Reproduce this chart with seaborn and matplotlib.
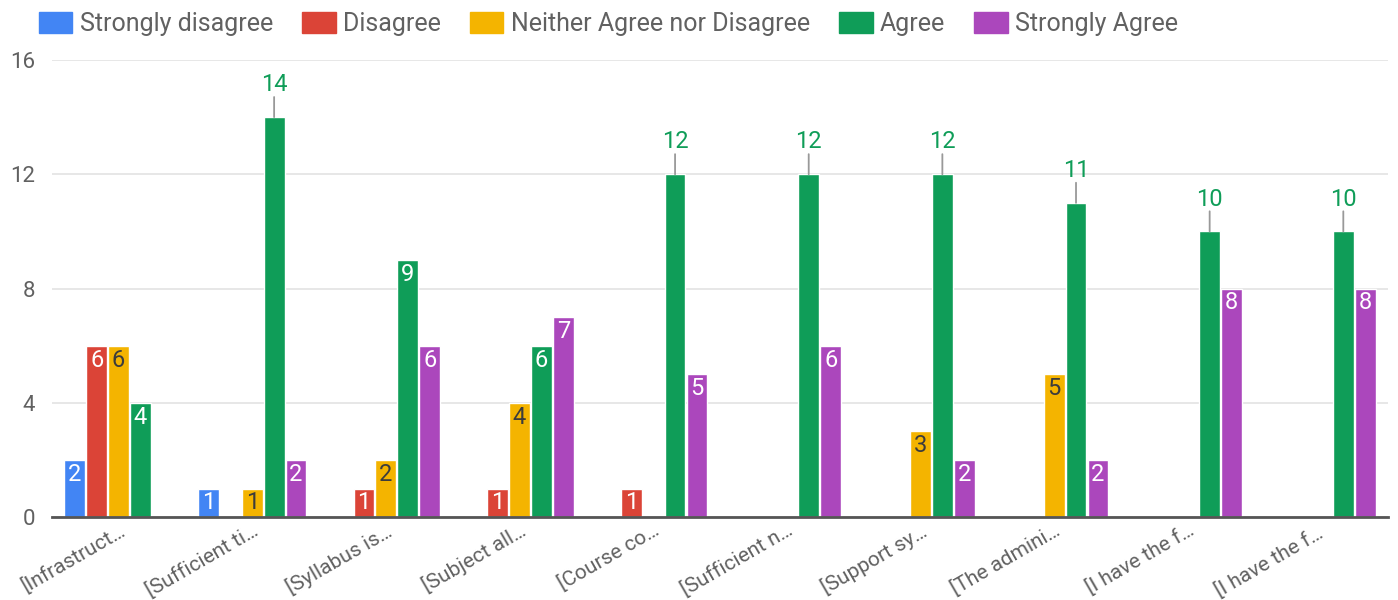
import matplotlib

matplotlib.use("Agg")

import matplotlib.pyplot as plt
import numpy as np
import pandas as pd
import seaborn as sns

# Survey responses per statement (counts)
CATEGORIES = [
    "[Infrastruct…",
    "[Sufficient ti…",
    "[Syllabus is…",
    "[Subject all…",
    "[Course co…",
    "[Sufficient n…",
    "[Support sy…",
    "[The admini…",
    "[I have the f…",
    "[I have the f… ",
]
SERIES = ["Strongly disagree", "Disagree", "Neither Agree nor Disagree", "Agree", "Strongly Agree"]
STRONGLY_DISAGREE = [2, 1, 0, 0, 0, 0, 0, 0, 0, 0]
DISAGREE = [6, 0, 1, 1, 1, 0, 0, 0, 0, 0]
NEITHER = [6, 1, 2, 4, 0, 0, 3, 5, 0, 0]
AGREE = [4, 14, 9, 6, 12, 12, 12, 11, 10, 10]
STRONGLY_AGREE = [0, 2, 6, 7, 5, 6, 2, 2, 8, 8]
Y_TICKS = [0, 4, 8, 12, 16]

COLORS = ["#4285F4", "#DB4437", "#F4B400", "#0F9D58", "#AB47BC"]
LABEL_COLORS = ["white", "white", "#3c3c3c", "white", "white"]

sns.set_theme(style="white")
plt.rcParams["font.family"] = ["Roboto", "DejaVu Sans"]

values = [STRONGLY_DISAGREE, DISAGREE, NEITHER, AGREE, STRONGLY_AGREE]
rows = []
for s, vals in zip(SERIES, values):
    for c, v in zip(CATEGORIES, vals):
        rows.append({"question": c, "response": s, "count": v})
df = pd.DataFrame(rows)

fig = plt.figure(figsize=(13.98, 6), dpi=100)
ax = fig.add_axes([0.037, 0.138, 0.956, 0.762])

sns.barplot(
    data=df,
    x="question",
    y="count",
    hue="response",
    hue_order=SERIES,
    order=CATEGORIES,
    palette=COLORS,
    width=0.82,
    gap=0.05,
    saturation=1,
    legend=False,
    ax=ax,
)

ax.set_ylim(0, 16)
ax.set_yticks(Y_TICKS)
ax.set_xlim(-0.5, len(CATEGORIES) - 0.5)
ax.grid(axis="y", color="#e3e3e3", lw=1.2)
ax.set_axisbelow(True)
for sp in ["top", "right", "left"]:
    ax.spines[sp].set_visible(False)
ax.spines["bottom"].set_color("#555555")
ax.spines["bottom"].set_linewidth(2)
ax.tick_params(axis="y", length=0, labelsize=16, colors="#616161", pad=12)
ax.tick_params(axis="x", length=0, labelsize=15, colors="#616161", pad=2.5)
for lab in ax.get_xticklabels():
    lab.set_rotation(30)
    lab.set_ha("right")
    lab.set_rotation_mode("anchor")
ax.set_xlabel("")
ax.set_ylabel("")

# value labels: single digits sit inside the bar, wider ones go above on a leader line
for i, cont in enumerate(ax.containers):
    for bar, v in zip(cont, values[i]):
        if v == 0:
            continue
        x = bar.get_x() + bar.get_width() / 2
        h = bar.get_height()
        if len(str(v)) > 1:
            ax.annotate("", xy=(x, h), xytext=(0, 14.5), textcoords="offset points",
                        xycoords="data",
                        arrowprops=dict(arrowstyle="-", color="#999999", lw=1.3,
                                        shrinkA=0, shrinkB=0))
            ax.annotate(str(v), xy=(x, h), xytext=(0, 15), textcoords="offset points",
                        ha="center", va="bottom", fontsize=17, color=COLORS[i])
        else:
            ax.annotate(str(v), xy=(x, h), xytext=(0, -2), textcoords="offset points",
                        ha="center", va="top", fontsize=17, color=LABEL_COLORS[i])

handles = [plt.Rectangle((0, 0), 1, 1, color=c) for c in COLORS]
fig.legend(
    handles,
    SERIES,
    loc="upper left",
    bbox_to_anchor=(0.0115, 1.017),
    ncol=5,
    frameon=False,
    fontsize=18,
    labelcolor="#616161",
    handlelength=1.35,
    handleheight=0.9,
    handletextpad=0.3,
    columnspacing=1.15,
)

fig.savefig("out.png", dpi=100, facecolor="white")
